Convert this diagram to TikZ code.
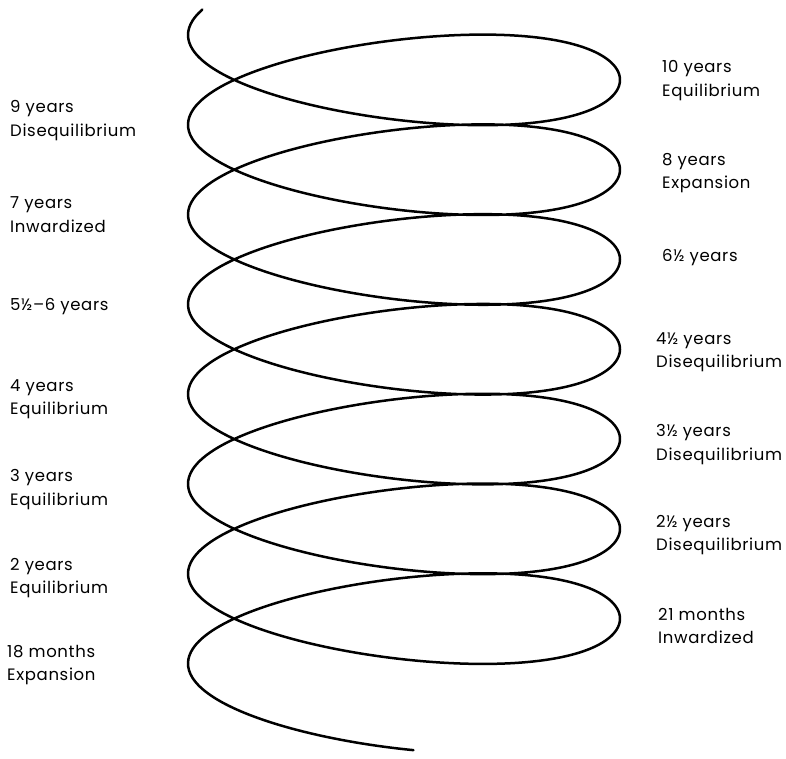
\documentclass[tikz,border=0pt]{standalone}
\usepackage{fontspec}
\setmainfont{Poppins}[LetterSpace=4]
\begin{document}
\begin{tikzpicture}[x=1pt,y=-1pt,
  lbl/.style={anchor=base west, align=left, inner sep=0pt, font=\fontsize{16.5}{23.5}\selectfont},
  spiral/.style={line width=2.5pt, line join=round, line cap=round}]
\useasboundingbox (0,0) rectangle (786,758);
\draw[spiral] plot[domain=-0.32:45.45, samples=1000, smooth, variable=\t]
  ({421-216*cos(\t r)-17*cos(2*\t r)}, {35+14.29*\t+66.2*sin(\t r)});
% left labels (coordinates: baseline of the last line)
\node[lbl] (l9)  at (10,136.2) {9 years\\Disequilibrium};
\node[lbl] (l7)  at (10,232) {7 years\\Inwardized};
\node[lbl] (l5)  at (10,310) {5½–6 years};
\node[lbl] (l4)  at (10,414.5) {4 years\\Equilibrium};
\node[lbl] (l3)  at (10,505) {3 years\\Equilibrium};
\node[lbl] (l2)  at (10,593.5) {2 years\\Equilibrium};
\node[lbl] (l18) at (7,680.5) {18 months\\Expansion};
% right labels
\node[lbl] (r10) at (662,96) {10 years\\Equilibrium};
\node[lbl] (r8)  at (662,188.5) {8 years\\Expansion};
\node[lbl] (r6)  at (662,261.5) {6½ years};
\node[lbl] (r4)  at (656,367.5) {4½ years\\Disequilibrium};
\node[lbl] (r3)  at (656,460) {3½ years\\Disequilibrium};
\node[lbl] (r2)  at (656,550.5) {2½ years\\Disequilibrium};
\node[lbl] (r21) at (658,643.5) {21 months\\Inwardized};
\end{tikzpicture}
\end{document}
